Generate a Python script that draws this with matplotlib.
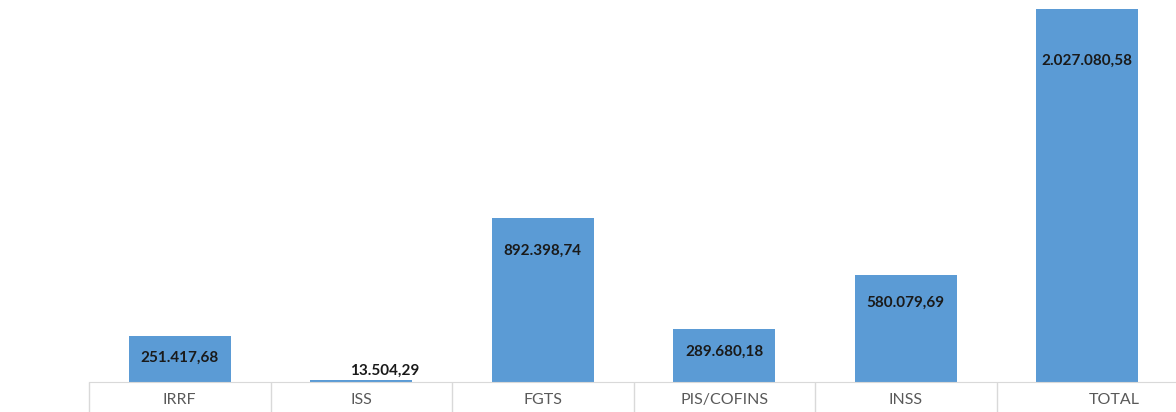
import matplotlib.pyplot as plt
from matplotlib.transforms import offset_copy, ScaledTranslation

# Dados
categorias = ["IRRF", "ISS", "FGTS", "PIS/COFINS", "INSS", "TOTAL"]
valores = [251417.68, 13504.29, 892398.74, 289680.18, 580079.69, 2027080.58]
rotulos = ["251.417,68", "13.504,29", "892.398,74", "289.680,18", "580.079,69", "2.027.080,58"]

plt.rcParams["font.family"] = ["Lato", "DejaVu Sans"]

fig = plt.figure(figsize=(11.76, 4.12), dpi=100)
ax = fig.add_axes([89 / 1176, 30 / 412, 1089 / 1176, 382 / 412])

x = list(range(len(categorias)))
ax.bar(x, valores, width=0.56, color="#5B9BD5", zorder=2)

ax.set_xlim(-0.5, len(categorias) - 0.5)
ax.set_ylim(0, 2027080.58 * 382 / 373)

# Rótulos de dados
for i, (v, txt) in enumerate(zip(valores, rotulos)):
    if v < 100000:
        # no original o rótulo pequeno fica acima e um pouco à direita
        tr = offset_copy(ax.transData, fig=fig, x=17, y=1.5, units="points")
        ax.text(i, v, txt, transform=tr, ha="center", va="bottom",
                fontsize=11, fontweight="bold", color="#1a1a1a")
    else:
        tr = offset_copy(ax.transData, fig=fig, x=0, y=-13, units="points")
        ax.text(i, v * 0.91, txt, transform=tr, ha="center", va="center",
                fontsize=11, fontweight="bold", color="#1a1a1a")

# Eixos
for s in ["left", "right", "top"]:
    ax.spines[s].set_visible(False)
ax.spines["bottom"].set_color("#d9d9d9")
ax.set_yticks([])
ax.set_xticks(x)
ax.set_xticklabels(categorias, fontsize=11.5, color="#595959")
ax.set_xticks([i - 0.5 for i in range(len(categorias) + 1)], minor=True)
ax.tick_params(axis="x", which="major", length=0, pad=8)
ax.tick_params(axis="x", which="minor", length=22, color="#d9d9d9", width=1)

# TOTAL fica um pouco deslocado à direita no original
lbl = ax.get_xticklabels()[-1]
lbl.set_transform(lbl.get_transform() + ScaledTranslation(27 / 100, 0, fig.dpi_scale_trans))

fig.savefig("out.png", dpi=100)
